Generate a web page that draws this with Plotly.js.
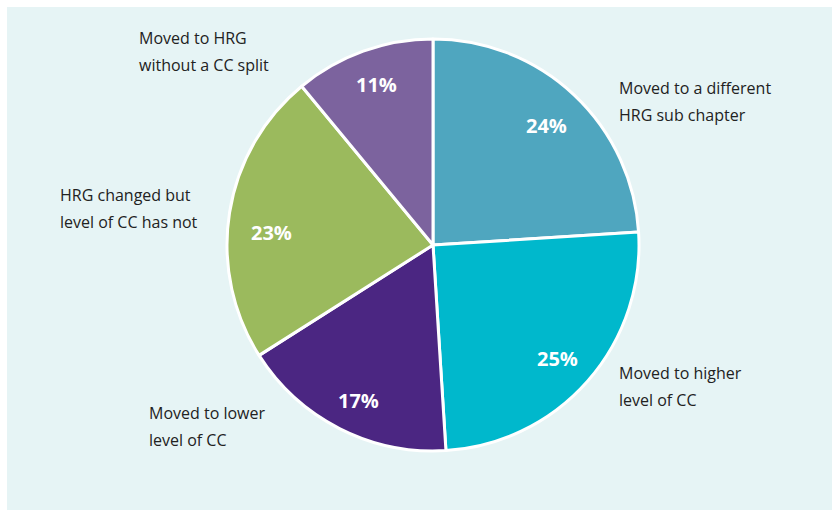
<!DOCTYPE html>
<html>
<head>
<meta charset="utf-8">
<script src="https://cdn.plot.ly/plotly-3.0.1.min.js"></script>
<style>
  html, body { margin: 0; padding: 0; background: #ffffff; }
  #chart { position: absolute; left: 7px; top: 7px; width: 825px; height: 503px; }
</style>
</head>
<body>
<div id="chart"></div>
<script>
// ---- data ----
const categories = [
  "Moved to a different HRG sub chapter",
  "Moved to higher level of CC",
  "Moved to lower level of CC",
  "HRG changed but level of CC has not",
  "Moved to HRG without a CC split"
];
const labelLines = [
  ["Moved to a different", "HRG sub chapter"],
  ["Moved to higher", "level of CC"],
  ["Moved to lower", "level of CC"],
  ["HRG changed but", "level of CC has not"],
  ["Moved to HRG", "without a CC split"]
];
const values = [24, 25, 17, 23, 11];
const colors = ["#4fa6bf", "#00b8cc", "#4b2682", "#9bba5d", "#7c639e"];

// ---- layout geometry (pixels inside the chart div) ----
const W = 825, H = 503;
const cx = 426, cy = 238, R = 206;
const labelPos = [ // left edge x, first-line center y
  [610, 81], [610, 366], [140, 406], [51, 188], [130, 31]
];
const pctNudge = [[-1, 2], [-1, 3], [1, 7], [3, 14], [0, -4]];
const lineGap = 27;
const textFont = "Open Sans, sans-serif";

const annotations = [];
const total = values.reduce((a, b) => a + b, 0);
let cum = 0;
values.forEach((v, i) => {
  const mid = (cum + v / 2) / total * 2 * Math.PI;
  cum += v;
  const r = 0.81 * R;
  const px = cx + r * Math.sin(mid) + pctNudge[i][0];
  const py = cy - r * Math.cos(mid) + pctNudge[i][1];
  annotations.push({
    xref: "paper", yref: "paper", x: px / W, y: 1 - py / H,
    xanchor: "center", yanchor: "middle", showarrow: false,
    text: "<b>" + Math.round(v / total * 100) + "%</b>",
    font: { family: textFont, size: 20, color: "#ffffff" }
  });
  labelLines[i].forEach((ln, j) => {
    annotations.push({
      xref: "paper", yref: "paper",
      x: labelPos[i][0] / W, y: 1 - (labelPos[i][1] + j * lineGap) / H,
      xanchor: "left", yanchor: "middle", showarrow: false,
      text: ln,
      font: { family: textFont, size: 16, color: "#222222" }
    });
  });
});

const trace = {
  type: "pie",
  labels: categories,
  values: values,
  sort: false,
  direction: "clockwise",
  rotation: 0,
  textinfo: "none",
  hoverinfo: "label+percent",
  marker: { colors: colors, line: { color: "#ffffff", width: 3 } },
  domain: { x: [(cx - R) / W, (cx + R) / W], y: [1 - (cy + R) / H, 1 - (cy - R) / H] },
  showlegend: false
};

const layout = {
  width: W, height: H,
  margin: { l: 0, r: 0, t: 0, b: 0 },
  paper_bgcolor: "#e6f4f5",
  showlegend: false,
  annotations: annotations
};

Plotly.newPlot("chart", [trace], layout, { displayModeBar: false, staticPlot: true });
</script>
</body>
</html>
